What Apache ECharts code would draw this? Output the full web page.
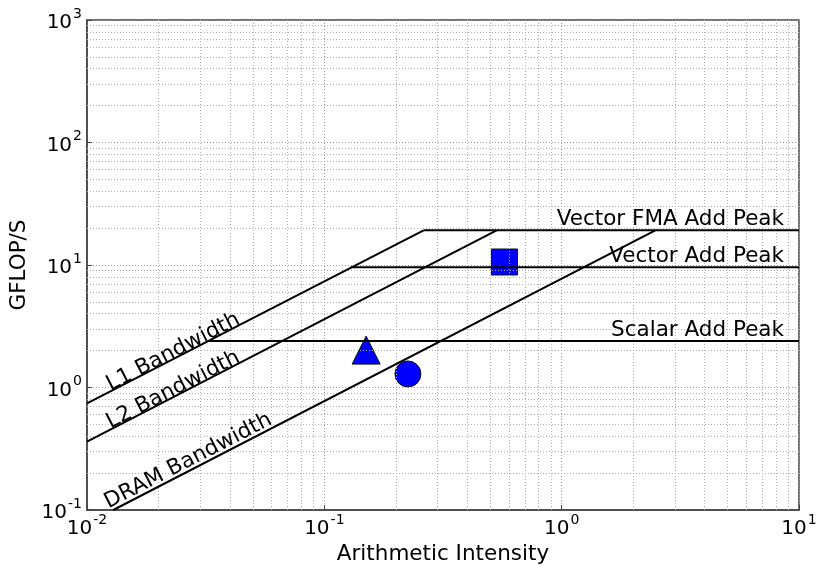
<!DOCTYPE html>
<html>
<head>
<meta charset="utf-8">
<script src="https://cdn.jsdelivr.net/npm/echarts@6/dist/echarts.min.js"></script>
<style>html,body{margin:0;padding:0;background:#fff}#c{width:818px;height:565px}</style>
</head>
<body>
<div id="c"></div>
<script>
// ---- data ----
const xMin = 0.01, xMax = 10;
const yMin = 0.1, yMax = 1000;
const peakNames = ['Vector FMA Add Peak', 'Vector Add Peak', 'Scalar Add Peak'];
const peakValues = [19.2, 9.57, 2.40];
const peakStarts = [0.262, 0.129, 0.0325];
const bwNames = ['L1 Bandwidth', 'L2 Bandwidth', 'DRAM Bandwidth'];
const bwStartX = [0.01, 0.01, 0.0129];
const bwStartY = [0.743, 0.361, 0.1];
const bwEndX = [0.262, 0.532, 2.48];
const bwEndY = [19.2, 19.2, 19.2];
const bwLabelX = [0.0231, 0.0231, 0.0267];
const bwLabelY = [1.95, 0.955, 0.251];
const pointShapes = ['triangle', 'circle', 'rect'];
const pointX = [0.150, 0.225, 0.574];
const pointY = [2.02, 1.29, 10.58];

const FONT = 'DejaVu Sans';
const FS = 21.5;
const chart = echarts.init(document.getElementById('c'));

function supFmt(v) {
  const e = Math.round(Math.log10(v));
  return '{b|10}{s|' + e + '}';
}
const rich = {
  b: { fontSize: 20, fontFamily: FONT, color: '#000', lineHeight: 26, verticalAlign: 'bottom' },
  s: { fontSize: 14, fontFamily: FONT, color: '#000', lineHeight: 26, verticalAlign: 'top', padding: [0, 0, 0, 1] }
};

// minor grid values (2..9 per decade)
function minorVals(lo, hi) {
  const out = [];
  for (let d = Math.log10(lo); d < Math.log10(hi); d++) {
    for (let k = 2; k <= 9; k++) out.push(k * Math.pow(10, d));
  }
  return out;
}
const minorX = minorVals(xMin, xMax);
const minorY = minorVals(yMin, yMax);

const series = [];
series.push({
  type: 'line', data: [], silent: true,
  markLine: {
    silent: true, symbol: 'none', label: { show: false }, animation: false,
    lineStyle: { color: '#b0b0b0', type: [1, 2], width: 1 },
    data: minorX.map(v => ({ xAxis: v })).concat(minorY.map(v => ({ yAxis: v })))
  },
  z: 1
});

pointShapes.forEach((s, i) => {
  series.push({
    type: 'scatter', symbol: s,
    symbolSize: s === 'triangle' ? [28, 28] : 26,
    data: [[pointX[i], pointY[i]]],
    itemStyle: { color: '#0000ff', borderColor: '#111', borderWidth: 1, opacity: 1 },
    z: 3
  });
});

peakNames.forEach((n, i) => {
  series.push({
    type: 'line', symbol: 'none', animation: false,
    data: [[peakStarts[i], peakValues[i]], [xMax, peakValues[i]]],
    lineStyle: { color: '#000', width: 2 },
    z: 5
  });
  series.push({
    type: 'scatter', symbolSize: 0, silent: true,
    data: [[xMax, peakValues[i]]],
    itemStyle: { opacity: 1 },
    label: {
      show: true, formatter: n, position: 'left', align: 'right', verticalAlign: 'bottom',
      offset: [-10, 0], fontSize: FS, fontFamily: FONT, color: '#000', opacity: 1
    },
    z: 6
  });
});

bwNames.forEach((n, i) => {
  series.push({
    type: 'line', symbol: 'none', animation: false,
    data: [[bwStartX[i], bwStartY[i]], [bwEndX[i], bwEndY[i]]],
    lineStyle: { color: '#000', width: 2 },
    z: 5
  });
  series.push({
    type: 'scatter', symbolSize: 0, silent: true,
    data: [[bwLabelX[i], bwLabelY[i]]],
    itemStyle: { opacity: 1 },
    label: {
      show: true, formatter: n, position: 'inside', rotate: 27.3,
      fontSize: FS, fontFamily: FONT, color: '#000', opacity: 1
    },
    z: 6
  });
});

const axisCommon = {
  type: 'log', logBase: 10,
  axisLine: { show: true, onZero: false, lineStyle: { color: '#444', width: 1.5 } },
  axisTick: { show: true, inside: true, length: 5, lineStyle: { color: '#444' } },
  splitLine: { show: true, lineStyle: { color: '#999', type: [1, 2], width: 1 } },
  minorTick: { show: false },
  minorSplitLine: { show: false }
};

chart.setOption({
  animation: false,
  backgroundColor: '#fff',
  grid: { left: 87, right: 19, top: 20, bottom: 55, show: true, borderColor: '#444', borderWidth: 1.5, containLabel: false, outerBoundsMode: 'none' },
  xAxis: Object.assign({}, axisCommon, {
    min: xMin, max: xMax,
    name: 'Arithmetic Intensity', nameLocation: 'middle', nameGap: 31,
    nameTextStyle: { fontSize: FS, fontFamily: FONT, color: '#000' },
    axisLabel: { formatter: supFmt, rich: rich, margin: 3 }
  }),
  yAxis: Object.assign({}, axisCommon, {
    min: yMin, max: yMax,
    name: 'GFLOP/S', nameLocation: 'middle', nameGap: 53,
    nameTextStyle: { fontSize: FS, fontFamily: FONT, color: '#000' },
    axisLabel: { formatter: supFmt, rich: rich, margin: 5 }
  }),
  series: series
});
</script>
</body>
</html>
